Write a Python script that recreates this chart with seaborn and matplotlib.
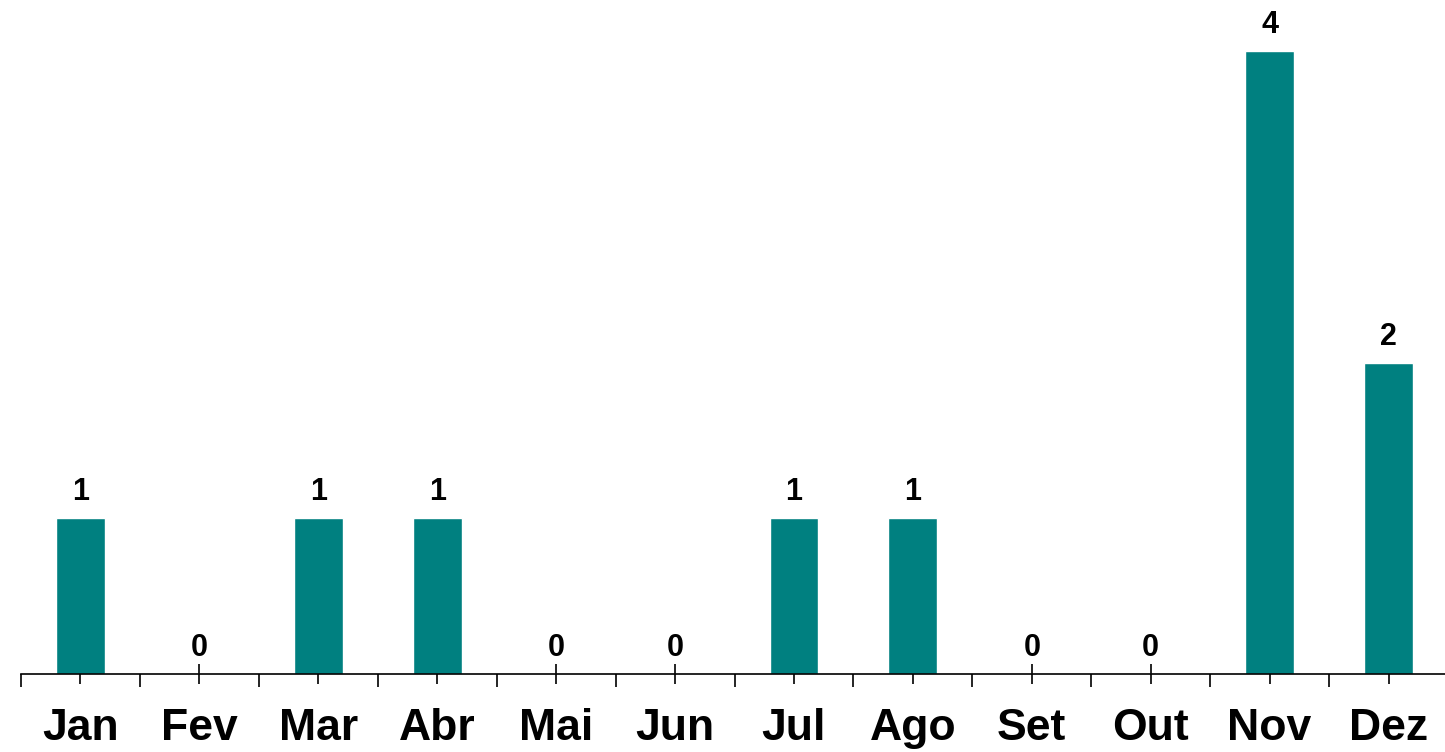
import matplotlib
matplotlib.use("Agg")
import matplotlib.pyplot as plt
import numpy as np
import pandas as pd
import seaborn as sns

MONTHS = ["Jan", "Fev", "Mar", "Abr", "Mai", "Jun", "Jul", "Ago", "Set", "Out", "Nov", "Dez"]
COUNTS = [1, 0, 1, 1, 0, 0, 1, 1, 0, 0, 4, 2]

BAR_COLOR = "#008080"

sns.set_theme(style="white")
plt.rcParams["font.family"] = ["Liberation Sans", "DejaVu Sans"]

df = pd.DataFrame({"month": MONTHS, "count": COUNTS})

fig = plt.figure(figsize=(14.45, 7.52), dpi=100)
ax = fig.add_axes([21 / 1445, 78 / 752, 1427 / 1445, 674 / 752])

sns.barplot(data=df, x="month", y="count", color=BAR_COLOR, width=0.41,
            saturation=1, ax=ax)

ax.bar_label(ax.containers[0], labels=[str(v) for v in COUNTS], padding=8,
             fontsize=22, fontweight="bold", color="black")

ax.set_xlim(-0.5, len(MONTHS) - 0.5)
ax.set_ylim(0, 4.33)
ax.set_xlabel("")
ax.set_ylabel("")
ax.set_yticks([])

for side in ["top", "right", "left"]:
    ax.spines[side].set_visible(False)
ax.spines["bottom"].set_color("black")
ax.spines["bottom"].set_linewidth(1.2)

ax.set_xticks(np.arange(len(MONTHS)))
ax.set_xticklabels(MONTHS, fontsize=32, fontweight="bold", color="black")
ax.set_xticks(np.arange(-0.5, len(MONTHS), 1), minor=True)
ax.tick_params(axis="x", which="major", direction="inout", length=15,
               width=1.2, color="black", pad=17, bottom=True)
ax.tick_params(axis="x", which="minor", direction="out", length=9.5,
               width=1.2, color="black", bottom=True)

fig.savefig("out.png", dpi=100)
